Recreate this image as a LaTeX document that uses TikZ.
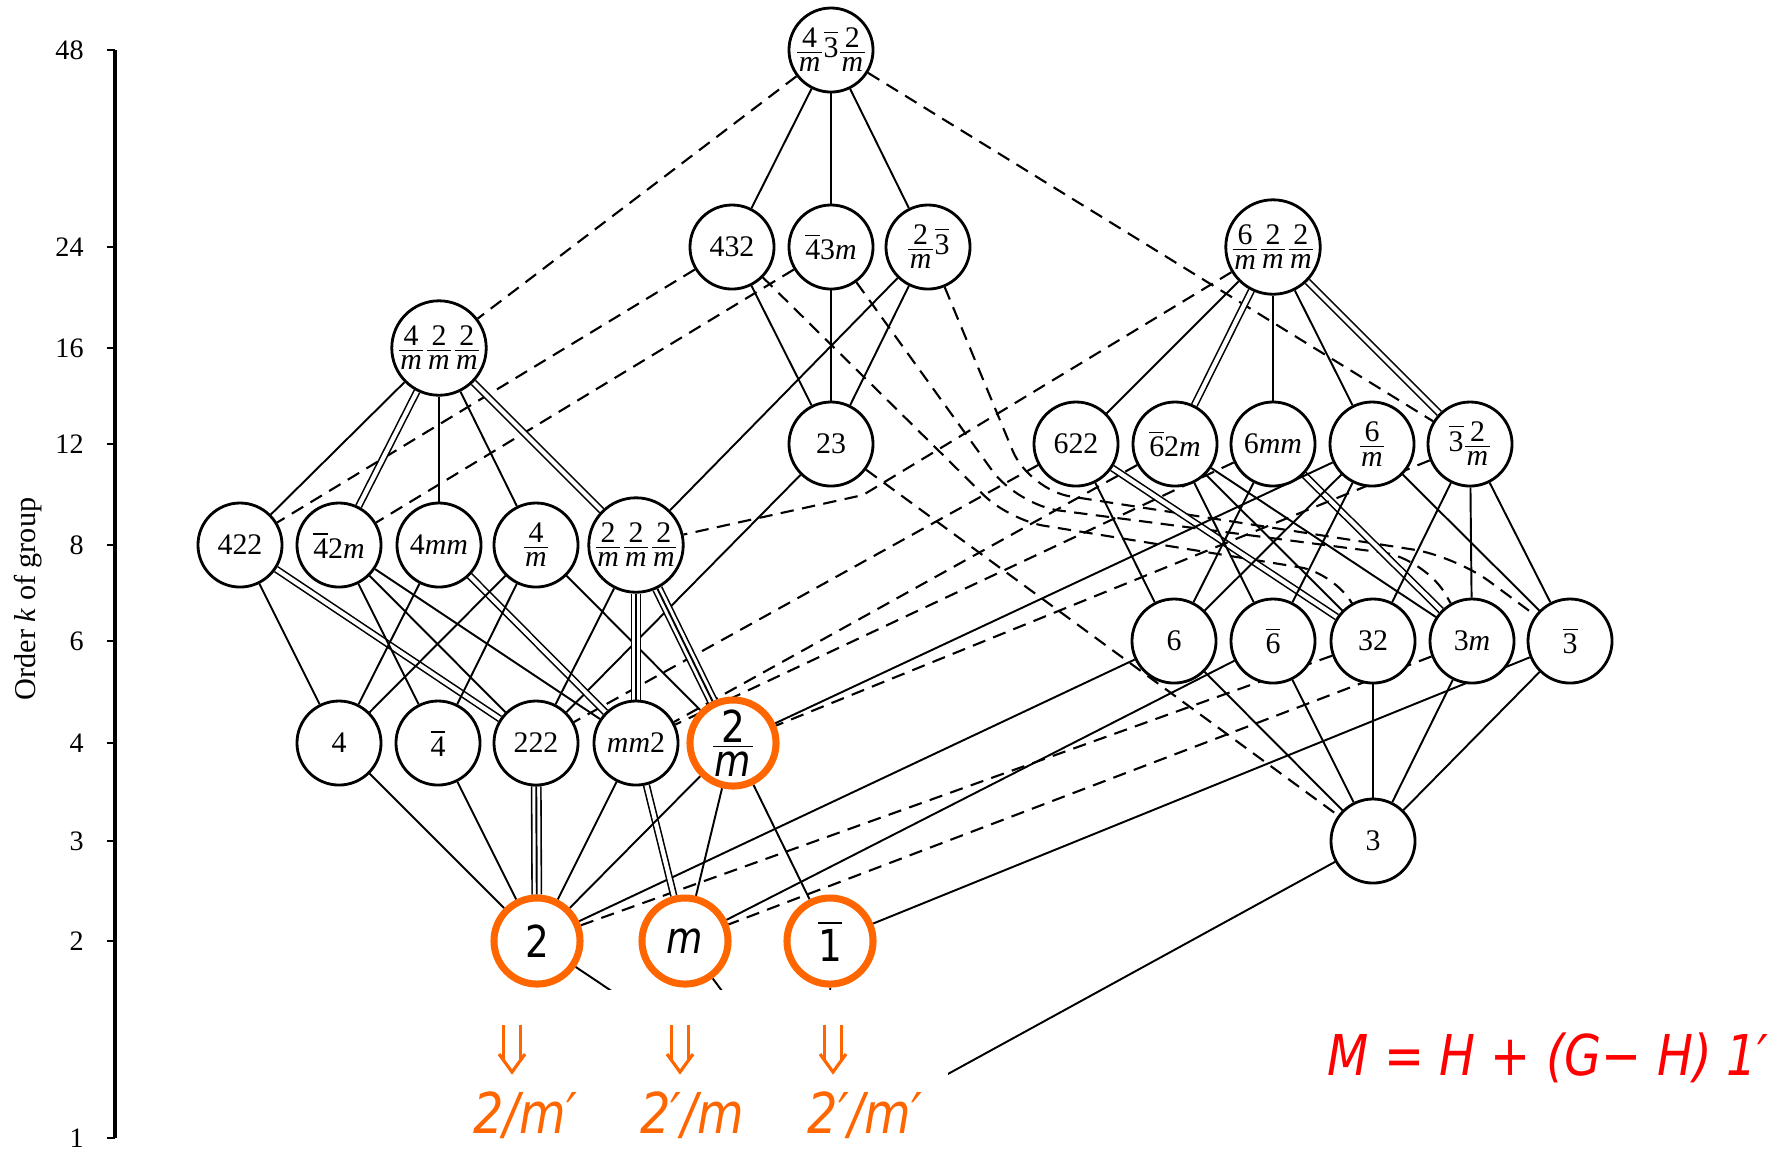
\documentclass[tikz,border=0pt]{standalone}
\usepackage{amsmath}
\usepackage{fontspec}
\setmainfont{Liberation Serif}
\newfontfamily\comicf[FakeStretch=0.85]{DejaVu Sans}
\usetikzlibrary{calc}
\definecolor{orng}{RGB}{255,102,0}
\definecolor{redc}{RGB}{255,0,0}
\newcommand\fr[2]{\ensuremath{\vcenter{\hbox{\kern0.5pt\sbox0{#1}\sbox2{#2}%
  \dimen0=\wd0 \ifdim\wd2>\dimen0 \dimen0=\wd2\fi \advance\dimen0 by 0.8pt
  \vbox{\offinterlineskip\hbox to\dimen0{\hfil\usebox0\hfil}\vskip1.1pt\hrule height0.45pt\vskip1.3pt\hbox to\dimen0{\hfil\usebox2\hfil}}\kern0.5pt}}}}
\newcommand\ob[1]{$\overline{\mbox{#1}}$}
\newcommand\mi{\textit{m}}
\pgfdeclarelayer{bg}
\pgfsetlayers{bg,main}
\begin{document}
\begin{tikzpicture}[x=0.01cm,y=-0.01cm,
  grp/.style={circle, draw, line width=0.8pt, fill=white, minimum size=0.84cm, inner sep=0pt, font=\fontsize{8.5}{10}\selectfont},
  og/.style={circle, draw=orng, line width=2pt, fill=white, minimum size=0.86cm, inner sep=0pt, font=\comicf\fontsize{12.5}{14}\selectfont},
  ed/.style={line width=0.55pt},
  da/.style={line width=0.6pt, dash pattern=on 3.8pt off 2.4pt},
  dbl/.style={line width=0.45pt, double, double distance=1.2pt},
  trp/.style={line width=0.45pt, double, double distance=2.2pt},
  tick/.style={line width=0.8pt},
  ticklab/.style={anchor=east, font=\fontsize{8}{10}\selectfont},
  oarrow/.style={draw=orng, line width=0.9pt},
  otext/.style={anchor=base, text=orng, font=\comicf\itshape\fontsize{16}{18}\selectfont}
]
\useasboundingbox (0,0) rectangle (1789,1150);

% axis
\draw[line width=0.9pt] (115,50) -- (115,1138);
\foreach \yy/\lab in {50/48,247/24,348/16,444/12,545/8,641/6,743/4,841/3,941/2,1138/1}{
  \draw[tick] (107,\yy) -- (115,\yy);
  \node[ticklab] at (96,\yy) {\lab};
}
\node[rotate=90, font=\fontsize{8.6}{10}\selectfont] (axlab) at (28,599) {Order \textit{k} of group};

% nodes
\node[grp] (m3m) at (831,50) {\fr{4}{\mi}\ob{3}\fr{2}{\mi}};
\node[grp] (n432) at (732,247) {432};
\node[grp] (n43m) at (831,247) {\ob{4}3\mi};
\node[grp] (nm3) at (928,247) {\fr{2}{\mi}\ob{3}};
\node[grp] (n6mmm) at (1273,247) {\fr{6}{\mi}\fr{2}{\mi}\fr{2}{\mi}};
\node[grp] (n4mmm) at (439,348) {\fr{4}{\mi}\fr{2}{\mi}\fr{2}{\mi}};
\node[grp] (n23) at (831,444) {23};
\node[grp] (n622) at (1076,444) {622};
\node[grp] (n62m) at (1175,444) {\ob{6}2\mi};
\node[grp] (n6mm) at (1273,444) {6\mi\mi};
\node[grp] (n6m) at (1372,444) {\fr{6}{\mi}};
\node[grp] (n3m2) at (1470,444) {\ob{3}\fr{2}{\mi}};
\node[grp] (n422) at (240,545) {422};
\node[grp] (n42m) at (339,545) {\ob{4}2\mi};
\node[grp] (n4mm) at (439,545) {4\mi\mi};
\node[grp] (n4m) at (536,545) {\fr{4}{\mi}};
\node[grp] (nmmm) at (636,545) {\fr{2}{\mi}\fr{2}{\mi}\fr{2}{\mi}};
\node[grp] (n6) at (1174,641) {6};
\node[grp] (n6b) at (1273,641) {\ob{6}};
\node[grp] (n32) at (1373,641) {32};
\node[grp] (n3m) at (1472,641) {3\mi};
\node[grp] (n3b) at (1570,641) {\ob{3}};
\node[grp] (n4) at (339,743) {4};
\node[grp] (n4b) at (438,743) {\ob{4}};
\node[grp] (n222) at (536,743) {222};
\node[grp] (nmm2) at (636,743) {\mi\mi2};
\node[og] (n2m) at (733,743) {\fr{2}{\textit{m}}};
\node[grp] (n3) at (1373,841) {3};
\node[og] (n2) at (537,941) {2};
\node[og] (nm) at (685,941) {\textit{m}};
\node[og] (n1b) at (830,941) {\ob{1}};
\coordinate (n1) at (831,1138);

\begin{pgfonlayer}{bg}
% order 48
\draw[ed] (m3m) -- (n432);
\draw[ed] (m3m) -- (n43m);
\draw[ed] (m3m) -- (nm3);
\draw[da] (m3m) -- (n4mmm);
\draw[da] (m3m) -- (n3m2);
% order 24
\draw[ed] (n432) -- (n23);
\draw[da] (n432) -- (n422);
\draw[da, rounded corners=10pt] (n432) -- (1009,520) -- (1335,573) -- (n32);
\draw[ed] (n43m) -- (n23);
\draw[da] (n43m) -- (n42m);
\draw[da, rounded corners=12pt] (n43m) -- (1017,505) -- (1425,558) -- (n3m);
\draw[ed] (nm3) -- (n23);
\draw[ed] (nm3) -- (nmmm);
\draw[da, rounded corners=12pt] (nm3) -- (1029,490) -- (1455,556) -- (n3b);
\draw[ed] (n6mmm) -- (n622);
\draw[dbl] (n6mmm) -- (n62m);
\draw[ed] (n6mmm) -- (n6mm);
\draw[ed] (n6mmm) -- (n6m);
\draw[dbl] (n6mmm) -- (n3m2);
\draw[da] (n6mmm) -- (863,495) -- (nmmm);
% order 16
\draw[ed] (n4mmm) -- (n422);
\draw[dbl] (n4mmm) -- (n42m);
\draw[ed] (n4mmm) -- (n4mm);
\draw[ed] (n4mmm) -- (n4m);
\draw[dbl] (n4mmm) -- (nmmm);
% order 12
\draw[ed] (n23) -- (n222);
\draw[da] (n23) -- (n3);
\draw[ed] (n622) -- (n6);
\draw[dbl] (n622) -- (n32);
\draw[da] (n622) -- (n222);
\draw[ed] (n62m) -- (n6b);
\draw[ed] (n62m) -- (n32);
\draw[ed] (n62m) -- (n3m);
\draw[da] (n62m) -- (nmm2);
\draw[ed] (n6mm) -- (n6);
\draw[dbl] (n6mm) -- (n3m);
\draw[da] (n6mm) -- (nmm2);
\draw[ed] (n6m) -- (n6);
\draw[ed] (n6m) -- (n6b);
\draw[ed] (n6m) -- (n3b);
\draw[ed] (n6m) -- (n2m);
\draw[ed] (n3m2) -- (n32);
\draw[ed] (n3m2) -- (n3m);
\draw[ed] (n3m2) -- (n3b);
\draw[da] (n3m2) -- (n2m);
% order 8
\draw[ed] (n422) -- (n4);
\draw[dbl] (n422) -- (n222);
\draw[ed] (n42m) -- (n4b);
\draw[ed] (n42m) -- (n222);
\draw[ed] (n42m) -- (nmm2);
\draw[ed] (n4mm) -- (n4);
\draw[dbl] (n4mm) -- (nmm2);
\draw[ed] (n4m) -- (n4);
\draw[ed] (n4m) -- (n4b);
\draw[ed] (n4m) -- (n2m);
\draw[ed] (nmmm) -- (n222);
\draw[trp] (nmmm) -- (nmm2);
\draw[ed] (nmmm) -- (nmm2);
\draw[trp] (nmmm) -- (n2m);
\draw[ed] (nmmm) -- (n2m);
% order 6
\draw[ed] (n6) -- (n3);
\draw[ed] (n6) -- (n2);
\draw[ed] (n6b) -- (n3);
\draw[ed] (n6b) -- (nm);
\draw[ed] (n32) -- (n3);
\draw[da] (n32) -- (n2);
\draw[ed] (n3m) -- (n3);
\draw[da] (n3m) -- (nm);
\draw[ed] (n3b) -- (n3);
\draw[ed] (n3b) -- (n1b);
% order 4
\draw[ed] (n4) -- (n2);
\draw[ed] (n4b) -- (n2);
\draw[trp] (n222) -- (n2);
\draw[ed] (n222) -- (n2);
\draw[ed] (nmm2) -- (n2);
\draw[dbl] (nmm2) -- (nm);
\draw[ed] (n2m) -- (n2);
\draw[ed] (n2m) -- (nm);
\draw[ed] (n2m) -- (n1b);
% to 1
\draw[ed] (n3) -- (n1);
\draw[ed] (n2) -- (n1);
\draw[ed] (nm) -- (n1);
\draw[ed] (n1b) -- (n1);
\end{pgfonlayer}

% white cover
\fill[white] (125,990) rectangle (948,1150);

% orange arrows and texts
\foreach \xx in {512,680,833}{
  \draw[oarrow] ({\xx-8.5},1025) -- ({\xx-8.5},1061);
  \draw[oarrow] ({\xx+8.5},1025) -- ({\xx+8.5},1061);
  \draw[oarrow] ({\xx-13},1054) -- (\xx,1072) -- ({\xx+13},1054);
}
\node[otext] (t1) at (525,1133) {2/m′};
\node[otext] (t2) at (692,1133) {2′/m};
\node[otext] (t3) at (865,1133) {2′/m′};
\node[anchor=base, text=redc, font=\comicf\itshape\fontsize{16}{18}\selectfont] (formula) at (1548,1075) {M = H + (G− H) 1′};
\end{tikzpicture}
\end{document}
